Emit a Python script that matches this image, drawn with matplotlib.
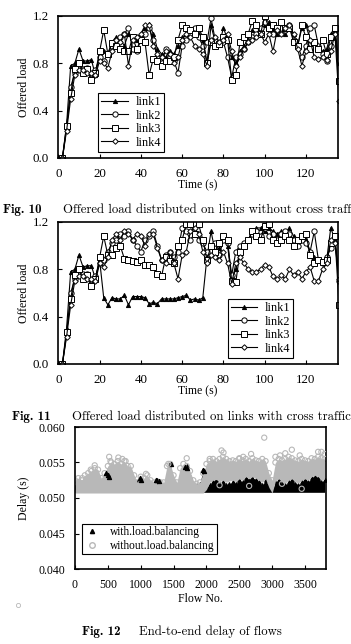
import numpy as np
import matplotlib
matplotlib.use("Agg")
import matplotlib.pyplot as plt
from matplotlib.lines import Line2D

# ---- Fig. 10 / Fig. 11 data : offered load per link, sampled every 2 s ----
time_s = list(range(2, 138, 2))

fig10_link1 = [0.0, 0.28, 0.78, 0.80, 0.92, 0.82, 0.82, 0.83, 0.70, 0.88, 0.90, 0.88, 0.98, 1.02, 1.00, 0.95, 1.05,
               1.02, 1.00, 1.05, 1.10, 1.13, 1.05, 0.92, 0.88, 0.85, 0.90, 0.88, 0.95, 1.02, 1.05, 1.08, 1.10, 1.05,
               1.00, 0.80, 1.12, 0.98, 0.96, 1.10, 1.00, 0.85, 0.80, 0.90, 0.95, 1.00, 1.08, 1.05, 1.10, 1.12, 1.15,
               1.08, 1.05, 1.12, 1.05, 1.10, 1.05, 0.95, 1.10, 1.12, 1.00, 0.98, 0.95, 0.90, 0.92, 1.05, 1.10, 0.80]
fig10_link2 = [0.0, 0.25, 0.60, 0.72, 0.78, 0.75, 0.76, 0.68, 0.74, 0.85, 0.82, 0.88, 0.95, 1.00, 1.02, 1.05, 1.10,
               0.92, 0.90, 1.00, 1.05, 1.10, 1.00, 0.85, 0.80, 0.92, 0.85, 0.82, 0.72, 0.95, 1.00, 1.05, 1.10, 1.02,
               0.95, 0.98, 1.18, 1.00, 0.97, 0.98, 0.85, 0.68, 0.85, 0.88, 0.92, 0.98, 1.02, 1.05, 1.10, 1.15, 1.10,
               1.05, 1.08, 1.10, 1.08, 1.12, 1.00, 0.95, 0.85, 0.95, 1.10, 1.12, 0.95, 0.88, 0.82, 0.95, 1.08, 0.65]
fig10_link3 = [0.0, 0.27, 0.55, 0.75, 0.80, 0.72, 0.75, 0.66, 0.72, 0.90, 1.08, 0.88, 0.97, 0.95, 0.92, 0.90, 0.90,
               1.02, 0.92, 1.00, 0.98, 0.70, 0.84, 0.82, 0.78, 0.82, 0.82, 0.85, 1.00, 1.12, 1.10, 1.08, 1.05, 1.10,
               1.02, 0.80, 0.98, 0.95, 0.96, 1.02, 1.00, 0.66, 0.70, 0.98, 1.02, 1.05, 1.16, 1.12, 1.05, 1.20, 1.10,
               1.12, 1.10, 1.15, 1.10, 1.10, 0.98, 0.95, 1.12, 1.02, 0.92, 0.98, 0.92, 1.00, 0.88, 1.02, 1.10, 0.65]
fig10_link4 = [0.0, 0.23, 0.50, 0.70, 0.74, 0.74, 0.72, 0.72, 0.70, 0.82, 0.80, 0.76, 0.90, 1.00, 0.98, 1.05, 0.78,
               1.00, 1.02, 1.05, 1.12, 1.12, 0.95, 0.88, 0.85, 0.90, 0.88, 0.80, 0.85, 1.00, 1.05, 1.02, 0.95, 0.92,
               0.88, 0.78, 1.00, 1.02, 0.98, 1.00, 1.05, 0.90, 0.78, 0.85, 0.92, 0.98, 1.00, 1.02, 1.05, 0.98, 1.05,
               0.90, 1.08, 1.05, 1.10, 1.12, 1.05, 0.92, 0.78, 0.90, 1.00, 0.85, 0.84, 0.85, 0.83, 0.90, 1.05, 0.48]

fig11_link1 = [0.0, 0.30, 0.78, 0.80, 0.92, 0.82, 0.83, 0.83, 0.72, 0.88, 0.56, 0.50, 0.56, 0.55, 0.55, 0.58, 0.50,
               0.57, 0.57, 0.57, 0.56, 0.51, 0.52, 0.51, 0.55, 0.55, 0.55, 0.55, 0.56, 0.57, 0.58, 0.54, 0.55, 0.54,
               0.56, 0.90, 1.12, 0.95, 0.98, 1.05, 1.00, 0.72, 0.80, 0.95, 1.00, 1.05, 1.12, 1.15, 1.15, 1.12, 1.15,
               1.12, 1.10, 1.12, 1.08, 1.15, 1.08, 1.05, 1.08, 1.05, 0.95, 0.90, 0.88, 0.85, 0.88, 1.15, 1.05, 0.72]
fig11_link2 = [0.0, 0.25, 0.60, 0.72, 0.78, 0.76, 0.76, 0.68, 0.74, 0.85, 0.88, 0.95, 1.02, 1.05, 1.10, 1.08, 1.12,
               1.05, 1.00, 0.95, 1.05, 1.08, 1.12, 1.00, 0.88, 0.92, 0.95, 0.90, 0.95, 1.15, 1.12, 1.05, 1.10, 1.05,
               1.02, 0.95, 1.00, 1.02, 0.92, 1.05, 1.02, 0.75, 0.95, 1.00, 1.02, 1.05, 1.10, 1.12, 1.08, 1.15, 1.08,
               1.10, 1.05, 1.10, 1.12, 1.10, 1.05, 1.00, 1.05, 1.02, 0.95, 1.12, 0.88, 0.85, 0.90, 0.98, 1.08, 0.70]
fig11_link3 = [0.0, 0.27, 0.55, 0.75, 0.80, 0.72, 0.75, 0.66, 0.72, 0.90, 1.08, 0.92, 0.92, 0.98, 1.00, 0.89, 0.88,
               0.87, 0.86, 0.88, 0.84, 0.84, 0.82, 0.76, 0.74, 0.90, 0.87, 0.85, 1.00, 1.05, 1.18, 1.18, 1.10, 1.18,
               1.05, 0.88, 1.00, 0.95, 1.02, 1.08, 1.05, 0.70, 0.69, 0.95, 1.00, 1.05, 1.12, 1.08, 1.05, 1.17, 1.18,
               1.05, 1.02, 1.05, 1.08, 1.05, 1.00, 1.05, 1.08, 1.10, 0.92, 0.85, 0.88, 0.86, 0.88, 1.02, 1.08, 0.50]
fig11_link4 = [0.0, 0.23, 0.50, 0.70, 0.74, 0.74, 0.72, 0.72, 0.70, 0.85, 0.82, 0.90, 1.05, 1.10, 1.05, 1.12, 1.10,
               1.05, 1.10, 1.08, 1.00, 1.10, 1.10, 0.98, 0.88, 0.85, 0.95, 0.85, 0.72, 0.92, 0.95, 1.12, 1.15, 1.10,
               0.95, 0.85, 0.92, 0.90, 0.88, 0.95, 0.85, 0.68, 0.85, 0.90, 0.85, 0.80, 0.78, 0.78, 0.80, 0.84, 0.82,
               0.74, 0.72, 0.75, 0.72, 0.80, 0.75, 0.78, 0.72, 0.78, 0.82, 0.70, 0.70, 0.80, 0.85, 1.05, 1.02, 0.72]

link_labels = ["link1", "link2", "link3", "link4"]

# ---- Fig. 12 data : end-to-end delay, envelopes of the dense point clouds every 50 flows ----
flow_no = list(range(0, 3850, 50))
base_delay = 0.0508
with_upper = [0.0515, 0.0518, 0.0520, 0.0518, 0.0521, 0.0520, 0.0522, 0.0520, 0.0522, 0.0532,
              0.0535, 0.0525, 0.0520, 0.0522, 0.0525, 0.0520, 0.0522, 0.0520, 0.0520, 0.0522,
              0.0527, 0.0520, 0.0518, 0.0518, 0.0520, 0.0525, 0.0518, 0.0516, 0.0520, 0.0548,
              0.0522, 0.0518, 0.0520, 0.0535, 0.0545, 0.0530, 0.0520, 0.0518, 0.0520, 0.0540,
              0.0515, 0.0518, 0.0522, 0.0525, 0.0520, 0.0522, 0.0518, 0.0520, 0.0522, 0.0520,
              0.0525, 0.0522, 0.0528, 0.0525, 0.0528, 0.0526, 0.0522, 0.0518, 0.0525, 0.0518,
              0.0512, 0.0522, 0.0525, 0.0520, 0.0518, 0.0522, 0.0525, 0.0520, 0.0518, 0.0522,
              0.0525, 0.0522, 0.0528, 0.0530, 0.0528, 0.0522, 0.0525]
without_lower = [0.0507] * 40 + [
              0.0512, 0.0522, 0.0525, 0.0526, 0.0523, 0.0525, 0.0522, 0.0524, 0.0525, 0.0523,
              0.0527, 0.0525, 0.0530, 0.0527, 0.0530, 0.0528, 0.0525, 0.0522, 0.0527, 0.0515,
              0.0507, 0.0524, 0.0527, 0.0523, 0.0521, 0.0525, 0.0527, 0.0523, 0.0521, 0.0525,
              0.0527, 0.0525, 0.0530, 0.0532, 0.0530, 0.0525, 0.0527]
without_upper = [0.0525, 0.0528, 0.0525, 0.0532, 0.0535, 0.0538, 0.0542, 0.0540, 0.0528, 0.0535,
                 0.0545, 0.0550, 0.0548, 0.0552, 0.0548, 0.0552, 0.0545, 0.0545, 0.0532, 0.0522,
                 0.0530, 0.0528, 0.0532, 0.0525, 0.0522, 0.0520, 0.0522, 0.0522, 0.0545, 0.0548,
                 0.0532, 0.0522, 0.0542, 0.0548, 0.0545, 0.0538, 0.0525, 0.0520, 0.0522, 0.0535,
                 0.0548, 0.0552, 0.0555, 0.0552, 0.0555, 0.0558, 0.0555, 0.0552, 0.0553, 0.0552,
                 0.0555, 0.0553, 0.0555, 0.0552, 0.0556, 0.0553, 0.0552, 0.0555, 0.0552, 0.0535,
                 0.0525, 0.0550, 0.0555, 0.0553, 0.0555, 0.0558, 0.0556, 0.0553, 0.0552, 0.0555,
                 0.0553, 0.0552, 0.0556, 0.0555, 0.0558, 0.0556, 0.0555]
# isolated points standing out of the clouds
without_peak_flow = [110, 240, 300, 520, 540, 660, 720, 770, 1080, 1420, 1700, 2050, 2230, 2260, 2500,
                     2560, 2680, 2880, 3050, 3120, 3200, 3300, 3420, 3700, 3750, 3800, 3450, 2200, 2650, 3150]
without_peak_delay = [0.0528, 0.0540, 0.0546, 0.0558, 0.0552, 0.0557, 0.0555, 0.0552, 0.0534, 0.0548,
                      0.0556, 0.0555, 0.0567, 0.0564, 0.0556, 0.0558, 0.0562, 0.0585, 0.0558, 0.0560,
                      0.0563, 0.0568, 0.0560, 0.0565, 0.0565, 0.0562, 0.0513, 0.0518, 0.0517, 0.0520]
with_spot_flow = [470, 500, 520, 990, 1010, 1240, 1280, 1460, 1680, 1710, 1950, 1960]
with_spot_delay = [0.0535, 0.0532, 0.0530, 0.0528, 0.0526, 0.0525, 0.0524, 0.0548, 0.0544, 0.0542, 0.0540, 0.0538]

W, H = 351, 644
plt.rcParams['font.family'] = ['Liberation Serif', 'DejaVu Serif']
plt.rcParams['font.size'] = 8.5
plt.rcParams['xtick.direction'] = 'in'
plt.rcParams['ytick.direction'] = 'in'

fig = plt.figure(figsize=(W / 100, H / 100), dpi=100)


def px_axes(left, top, right, bottom):
    return fig.add_axes([left / W, 1 - bottom / H, (right - left) / W, (bottom - top) / H])


def load_plot(ax, series, legend_x):
    styles = [dict(marker='^', ms=3, mfc='black'),
              dict(marker='o', ms=3.8, mfc='white'),
              dict(marker='s', ms=4.2, mfc='white'),
              dict(marker='D', ms=2.8, mfc='white')]
    for vals, lab, st in zip(series, link_labels, styles):
        ax.plot(time_s, vals, color='black', lw=0.8, mec='black', mew=0.7, label=lab, **st)
    ax.set_xlim(0, 135.5)
    ax.set_ylim(0, 1.2)
    ax.set_xticks([0, 20, 40, 60, 80, 100, 120])
    ax.set_yticks([0.0, 0.4, 0.8, 1.2])
    ax.yaxis.set_major_formatter(matplotlib.ticker.FormatStrFormatter('%.1f'))
    ax.tick_params(length=3, width=0.8, pad=7, labelsize=9.3)
    for s in ax.spines.values():
        s.set_linewidth(1.2)
    ax.set_xlabel('Time (s)')
    ax.set_ylabel('Offered load')
    ax.xaxis.set_label_coords(0.5, -0.15)
    ax.yaxis.set_label_coords(-0.10, 0.5)
    leg = ax.legend(loc='lower left', bbox_to_anchor=(legend_x, 0.045), fancybox=False,
                    edgecolor='black', framealpha=1, handlelength=2.2, labelspacing=0.12,
                    borderpad=0.25, handletextpad=0.6, borderaxespad=0, fontsize=8.8)
    leg.get_frame().set_linewidth(0.8)


ax10 = px_axes(58.3, 16, 338, 158)
load_plot(ax10, [fig10_link1, fig10_link2, fig10_link3, fig10_link4], 0.143)

ax11 = px_axes(58.3, 222, 338, 364)
load_plot(ax11, [fig11_link1, fig11_link2, fig11_link3, fig11_link4], 0.605)

# Fig. 12
ax12 = px_axes(75, 427, 326, 569)
gray = '#b8b8b8'
ax12.fill_between(flow_no, base_delay, with_upper, color='black', lw=0, zorder=1)
ax12.scatter(flow_no, with_upper, marker='^', s=6, color='black', zorder=1)
ax12.fill_between(flow_no, without_lower, without_upper, color=gray, lw=0, zorder=2)
ax12.scatter(flow_no, without_upper, marker='o', s=14, facecolors='none', edgecolors=gray, lw=0.8, zorder=2)
ax12.scatter(with_spot_flow, with_spot_delay, marker='^', s=8, color='black', zorder=3)
ax12.scatter(without_peak_flow, without_peak_delay, marker='o', s=14, facecolors='none',
             edgecolors=gray, lw=0.8, zorder=4)
ax12.set_xlim(0, 3820)
ax12.set_ylim(0.040, 0.060)
ax12.set_xticks([0, 500, 1000, 1500, 2000, 2500, 3000, 3500])
ax12.set_yticks([0.040, 0.045, 0.050, 0.055, 0.060])
ax12.yaxis.set_major_formatter(matplotlib.ticker.FormatStrFormatter('%.3f'))
ax12.tick_params(length=3, width=0.8, pad=7, labelsize=8.5)
for s in ax12.spines.values():
    s.set_linewidth(1.2)
ax12.set_xlabel('Flow No.', fontsize=8.5)
ax12.set_ylabel('Delay (s)', fontsize=8.5)
ax12.xaxis.set_label_coords(0.5, -0.17)
ax12.yaxis.set_label_coords(-0.18, 0.5)
handles = [Line2D([], [], ls='none', marker='^', ms=3, color='black'),
           Line2D([], [], ls='none', marker='o', ms=4, mfc='none', mec=gray)]
leg12 = ax12.legend(handles, ['with.load.balancing', 'without.load.balancing'], loc='lower left',
                    bbox_to_anchor=(0.028, 0.105), fancybox=False, edgecolor='black', framealpha=1,
                    handlelength=1.3, handletextpad=0.9, labelspacing=0.15, borderpad=0.2,
                    borderaxespad=0, fontsize=8.3)
leg12.get_frame().set_linewidth(0.8)

# stray marker at the lower left of the page
fig.add_artist(Line2D([18 / W], [1 - 605 / H], marker='o', ms=3, mfc='none', mec=gray, mew=0.6, ls='none'))

# captions (the first one runs past the right edge, as in the scanned page)
cap_bold = dict(family='cmb10', fontsize=9.2, va='center')
cap_text = dict(family='cmr10', fontsize=9.2, va='center')
fig.text(3 / W, 1 - 210 / H, 'Fig. 10', **cap_bold)
fig.text(63 / W, 1 - 210 / H, 'Offered load distributed on links without cross traffic', **cap_text)
fig.text(12 / W, 1 - 417 / H, 'Fig. 11', **cap_bold)
fig.text(72 / W, 1 - 417 / H, 'Offered load distributed on links with cross traffic', **cap_text)
fig.text(82 / W, 1 - 632 / H, 'Fig. 12', **cap_bold)
fig.text(139 / W, 1 - 632 / H, 'End-to-end delay of flows', **cap_text)

fig.savefig('out.png', dpi=100)
